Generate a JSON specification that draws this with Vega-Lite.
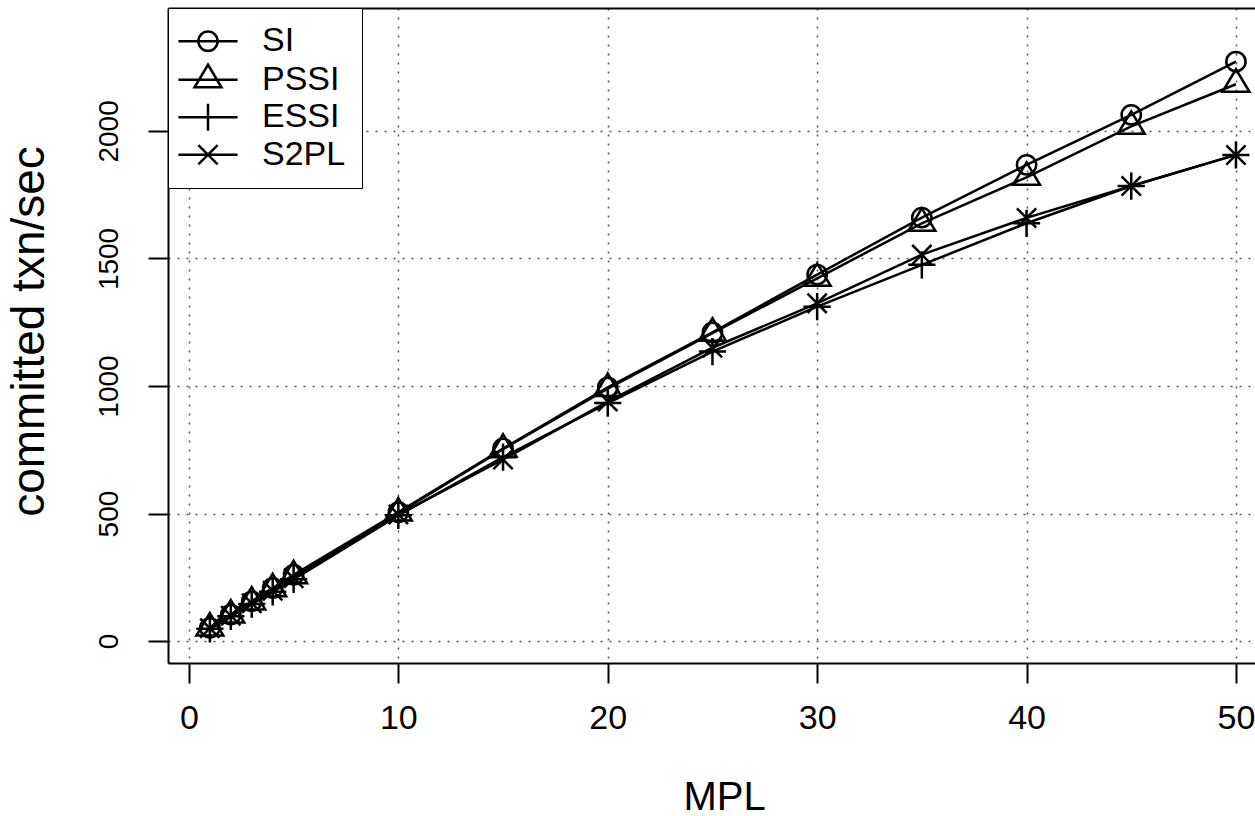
{
  "$schema": "https://vega.github.io/schema/vega-lite/v6.json",
  "autosize": {"type": "none"},
  "padding": {"left": 168, "top": 8, "right": 0, "bottom": 153},
  "width": 1087,
  "height": 655,
  "background": "white",
  "config": {
    "view": {"stroke": null},
    "font": "Liberation Sans",
    "axis": {
      "domainColor": "black", "domainWidth": 2,
      "tickColor": "black", "tickWidth": 2, "tickSize": 20,
      "labelColor": "black", "titleColor": "black", "titleFontWeight": "normal",
      "gridColor": "#555555", "gridDash": [2, 7], "gridWidth": 1.5,
      "labelFlush": false, "labelOverlap": false
    }
  },
  "data": {"values": [
    {"series": "SI", "MPL": 1, "value": 52}, {"series": "SI", "MPL": 2, "value": 104}, {"series": "SI", "MPL": 3, "value": 156}, {"series": "SI", "MPL": 4, "value": 208}, {"series": "SI", "MPL": 5, "value": 260}, {"series": "SI", "MPL": 10, "value": 505}, {"series": "SI", "MPL": 15, "value": 755}, {"series": "SI", "MPL": 20, "value": 995}, {"series": "SI", "MPL": 25, "value": 1210}, {"series": "SI", "MPL": 30, "value": 1437}, {"series": "SI", "MPL": 35, "value": 1660}, {"series": "SI", "MPL": 40, "value": 1867}, {"series": "SI", "MPL": 45, "value": 2063}, {"series": "SI", "MPL": 50, "value": 2272},
    {"series": "PSSI", "MPL": 1, "value": 51}, {"series": "PSSI", "MPL": 2, "value": 102}, {"series": "PSSI", "MPL": 3, "value": 153}, {"series": "PSSI", "MPL": 4, "value": 205}, {"series": "PSSI", "MPL": 5, "value": 256}, {"series": "PSSI", "MPL": 10, "value": 502}, {"series": "PSSI", "MPL": 15, "value": 752}, {"series": "PSSI", "MPL": 20, "value": 990}, {"series": "PSSI", "MPL": 25, "value": 1207}, {"series": "PSSI", "MPL": 30, "value": 1422}, {"series": "PSSI", "MPL": 35, "value": 1638}, {"series": "PSSI", "MPL": 40, "value": 1818}, {"series": "PSSI", "MPL": 45, "value": 2018}, {"series": "PSSI", "MPL": 50, "value": 2183},
    {"series": "ESSI", "MPL": 1, "value": 48}, {"series": "ESSI", "MPL": 2, "value": 97}, {"series": "ESSI", "MPL": 3, "value": 145}, {"series": "ESSI", "MPL": 4, "value": 193}, {"series": "ESSI", "MPL": 5, "value": 242}, {"series": "ESSI", "MPL": 10, "value": 493}, {"series": "ESSI", "MPL": 15, "value": 721}, {"series": "ESSI", "MPL": 20, "value": 933}, {"series": "ESSI", "MPL": 25, "value": 1135}, {"series": "ESSI", "MPL": 30, "value": 1311}, {"series": "ESSI", "MPL": 35, "value": 1475}, {"series": "ESSI", "MPL": 40, "value": 1638}, {"series": "ESSI", "MPL": 45, "value": 1784}, {"series": "ESSI", "MPL": 50, "value": 1906},
    {"series": "S2PL", "MPL": 1, "value": 50}, {"series": "S2PL", "MPL": 2, "value": 99}, {"series": "S2PL", "MPL": 3, "value": 148}, {"series": "S2PL", "MPL": 4, "value": 197}, {"series": "S2PL", "MPL": 5, "value": 246}, {"series": "S2PL", "MPL": 10, "value": 496}, {"series": "S2PL", "MPL": 15, "value": 712}, {"series": "S2PL", "MPL": 20, "value": 939}, {"series": "S2PL", "MPL": 25, "value": 1150}, {"series": "S2PL", "MPL": 30, "value": 1324}, {"series": "S2PL", "MPL": 35, "value": 1515}, {"series": "S2PL", "MPL": 40, "value": 1659}, {"series": "S2PL", "MPL": 45, "value": 1784}, {"series": "S2PL", "MPL": 50, "value": 1906}
  ]},
  "layer": [
    {
      "mark": {"type": "line", "stroke": "black", "strokeWidth": 2.5},
      "encoding": {
        "x": {
          "field": "MPL", "type": "quantitative",
          "scale": {"domain": [-1, 50.91], "nice": false, "zero": false},
          "axis": {
            "values": [0, 10, 20, 30, 40, 50], "title": "MPL", "grid": true,
            "labelFontSize": 34, "labelPadding": 18,
            "titleFontSize": 40, "titleX": 556, "titleY": 146,
            "titleBaseline": "alphabetic", "titleAlign": "center"
          }
        },
        "y": {
          "field": "value", "type": "quantitative",
          "scale": {"domain": [-86, 2482], "nice": false, "zero": false},
          "axis": {
            "values": [0, 500, 1000, 1500, 2000], "format": "d", "title": "committed txn/sec", "grid": true,
            "labelAngle": -90, "labelAlign": "center", "labelBaseline": "alphabetic",
            "labelFontSize": 28, "labelPadding": 31,
            "titleFontSize": 46, "titleAngle": -90, "titleX": -125, "titleY": 323,
            "titleBaseline": "alphabetic", "titleAlign": "center"
          }
        },
        "detail": {"field": "series", "type": "nominal"}
      }
    },
    {
      "mark": {"type": "point", "filled": false, "color": "black", "strokeWidth": 2.5, "size": 900, "opacity": 1},
      "encoding": {
        "x": {
          "field": "MPL", "type": "quantitative",
          "axis": {"orient": "top", "labels": false, "ticks": false, "grid": false, "domain": true, "title": null}
        },
        "y": {"field": "value", "type": "quantitative"},
        "shape": {
          "field": "series", "type": "nominal",
          "scale": {
            "domain": ["SI", "PSSI", "ESSI", "S2PL"],
            "range": [
              "M0.643,0C0.643,0.3552,0.3552,0.643,0,0.643C-0.3552,0.643,-0.643,0.3552,-0.643,0C-0.643,-0.3552,-0.3552,-0.643,0,-0.643C0.3552,-0.643,0.643,-0.3552,0.643,0Z",
              "M0,-1L0.898,0.5L-0.898,0.5Z",
              "M-0.907,0L0.907,0M0,-0.907L0,0.907",
              "M-0.643,-0.643L0.643,0.643M-0.643,0.643L0.643,-0.643"
            ]
          },
          "legend": null
        }
      }
    },
    {
      "mark": {"type": "point", "filled": false, "color": "black", "strokeWidth": 2.5, "size": 900, "opacity": 0},
      "encoding": {
        "x": {"field": "MPL", "type": "quantitative", "axis": null},
        "y": {"field": "value", "type": "quantitative"},
        "shape": {
          "field": "series", "type": "nominal",
          "scale": {
            "domain": ["SI", "PSSI", "ESSI", "S2PL"],
            "range": [
              "M-1.97,0L1.97,0M0.643,0C0.643,0.3552,0.3552,0.643,0,0.643C-0.3552,0.643,-0.643,0.3552,-0.643,0C-0.643,-0.3552,-0.3552,-0.643,0,-0.643C0.3552,-0.643,0.643,-0.3552,0.643,0Z",
              "M-1.97,0L1.97,0M0,-1L0.898,0.5L-0.898,0.5Z",
              "M-1.97,0L1.97,0M0,-0.907L0,0.907",
              "M-1.97,0L1.97,0M-0.643,-0.643L0.643,0.643M-0.643,0.643L0.643,-0.643"
            ]
          },
          "legend": {
            "title": null, "orient": "top-left", "offset": 0, "padding": 16.25,
            "symbolSize": 900, "symbolStrokeWidth": 2.5, "symbolStrokeColor": "black", "symbolFillColor": "transparent",
            "symbolOpacity": 1,
            "symbolOffset": 6.75, "labelOffset": 37, "labelFontSize": 34, "labelColor": "black", "labelFont": "Liberation Sans",
            "rowPadding": 1.5, "strokeColor": "black", "fillColor": "white",
            "encode": {"legend": {"strokeWidth": {"value": 2}}}
          }
        }
      }
    }
  ],
  "resolve": {"axis": {"x": "independent"}, "scale": {"shape": "independent"}}
}
